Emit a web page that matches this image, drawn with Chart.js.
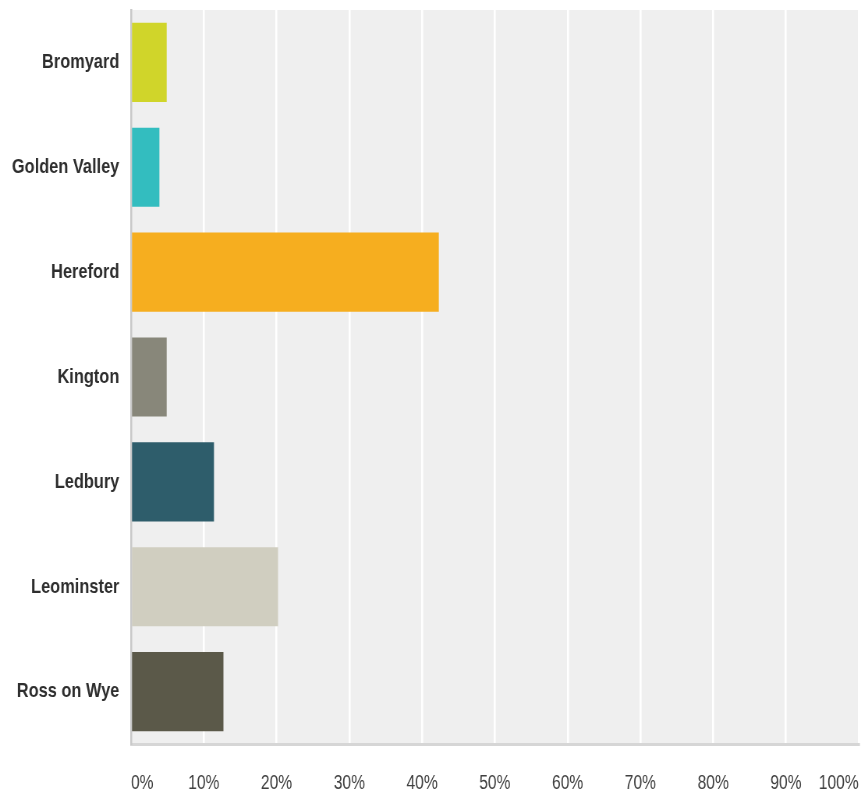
<!DOCTYPE html>
<html lang="en">
<head>
  <meta charset="UTF-8">
  <title>Responses by Area</title>
  <script src="https://cdn.jsdelivr.net/npm/chart.js"></script>
  <style>
    html, body {
      margin: 0;
      padding: 0;
      background: #ffffff;
      overflow: hidden;
    }
    /* chart is laid out wide, then squeezed horizontally for the narrow lettering */
    .chart-wrap {
      width: 1104px;
      height: 796px;
      transform: scaleX(0.7799);
      transform-origin: 0 0;
    }
  </style>
</head>
<body>
  <div class="chart-wrap">
    <canvas id="areaChart"></canvas>
  </div>

  <script>
    // Share of responses per area (percent)
    const categories = ['Bromyard', 'Golden Valley', 'Hereford', 'Kington', 'Ledbury', 'Leominster', 'Ross on Wye'];
    const percentValues = [4.9, 3.9, 42.3, 4.9, 11.4, 20.2, 12.7];
    const barColors = ['#d0d52a', '#33bdbf', '#f6ae1f', '#88877a', '#2e5d6b', '#d0cec0', '#5b5949'];
    const tickValues = [0, 10, 20, 30, 40, 50, 60, 70, 80, 90, 100];

    // light grey panel behind the bars
    const plotBackground = {
      id: 'plotBackground',
      beforeDraw(chart) {
        const { ctx, chartArea } = chart;
        ctx.save();
        ctx.fillStyle = '#efefef';
        ctx.fillRect(chartArea.left, chartArea.top, chartArea.right - chartArea.left, chartArea.bottom - chartArea.top);
        ctx.restore();
      }
    };

    const ctx = document.getElementById('areaChart').getContext('2d');
    new Chart(ctx, {
      type: 'bar',
      data: {
        labels: categories,
        datasets: [{
          data: percentValues,
          backgroundColor: barColors,
          borderWidth: 0,
          categoryPercentage: 1,
          barPercentage: 0.755
        }]
      },
      options: {
        indexAxis: 'y',
        responsive: true,
        maintainAspectRatio: false,
        animation: false,
        layout: {
          padding: { top: 10, right: 3, left: 0, bottom: 0 }
        },
        plugins: {
          legend: { display: false },
          tooltip: { enabled: false }
        },
        scales: {
          x: {
            min: 0,
            max: 100,
            afterBuildTicks(scale) {
              scale.ticks = tickValues.map(v => ({ value: v }));
            },
            afterFit(scale) {
              scale.height = 52;
              // labels are aligned inside, so no extra room at the ends
              scale.paddingLeft = 0;
              scale.paddingRight = 0;
            },
            grid: {
              color: '#ffffff',
              lineWidth: 2.6,
              drawTicks: false
            },
            border: {
              display: true,
              color: '#d6d6d6',
              width: 3
            },
            ticks: {
              align: 'inner',
              padding: 27,
              maxRotation: 0,
              autoSkip: false,
              color: '#404040',
              font: { family: "'Liberation Sans', Arial, sans-serif", size: 20 },
              callback: value => value + '%'
            }
          },
          y: {
            afterFit(scale) {
              scale.width = 168;
              scale.paddingTop = 0;
              scale.paddingBottom = 0;
            },
            grid: {
              display: false,
              drawTicks: false
            },
            border: {
              display: true,
              color: '#c9c9c9',
              width: 2.6
            },
            ticks: {
              padding: 15,
              color: '#2e2e2e',
              font: { family: "'Liberation Sans', Arial, sans-serif", size: 21, weight: 'bold' }
            }
          }
        }
      },
      plugins: [plotBackground]
    });
  </script>
</body>
</html>
